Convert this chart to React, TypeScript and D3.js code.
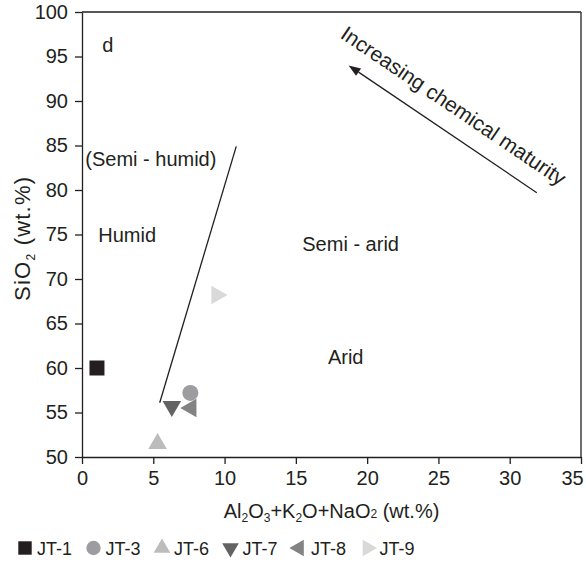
import * as React from 'react';
import * as d3 from 'd3';

const dimensions = { width: 586, height: 571 };
const margin = { top: 12, left: 82, right: 5, bottom: 114 };

const xTicks = [0, 5, 10, 15, 20, 25, 30, 35];
const yTicks = [50, 55, 60, 65, 70, 75, 80, 85, 90, 95, 100];

const samples = ['JT-1', 'JT-3', 'JT-6', 'JT-7', 'JT-8', 'JT-9'];
const oxides = [1.05, 7.6, 5.3, 6.3, 7.65, 9.45];
const silica = [60, 57.2, 51.5, 55.7, 55.5, 68.2];
const colors = ['#231f20', '#9d9d9f', '#bcbcbc', '#636363', '#838383', '#d9d9d9'];
const shapes = ['square', 'circle', 'up', 'down', 'left', 'right'];

// climate boundary line and maturity arrow, in data units
const boundary: [number, number][] = [
  [5.45, 56.1],
  [10.82, 84.9],
];
const arrow: [number, number][] = [
  [31.9, 79.7],
  [18.7, 94.0],
];

const regionLabels = ['d', '(Semi - humid)', 'Humid', 'Semi - arid', 'Arid'];
const regionX = [1.42, 0.23, 1.14, 15.45, 17.25];
const regionY = [95.5, 82.7, 74.2, 73.1, 60.4];

const font = '"Liberation Sans", Arial, sans-serif';
const ink = '#231f20';

const symbolPath = (shape: string, scale: number) => {
  if (shape === 'square') return d3.symbol(d3.symbolSquare, 225 * scale)() ?? '';
  if (shape === 'circle') return d3.symbol(d3.symbolCircle, 201 * scale)() ?? '';
  return d3.symbol(d3.symbolTriangle, 150 * scale)() ?? '';
};
const rotation: Record<string, number> = { up: 0, down: 180, left: -90, right: 90, square: 0, circle: 0 };

const App: React.FC = () => {
  const x = d3.scaleLinear([0, 35], [margin.left, dimensions.width - margin.right]);
  const y = d3.scaleLinear([50, 100], [dimensions.height - margin.bottom, margin.top]);

  const xAxisRef = React.useRef<SVGGElement>(null);
  const yAxisRef = React.useRef<SVGGElement>(null);

  React.useEffect(() => {
    const style = (g: d3.Selection<SVGGElement, unknown, null, undefined>) => {
      g.select('.domain').attr('stroke', ink).attr('stroke-width', 1.3);
      g.selectAll('.tick line').attr('stroke', ink).attr('stroke-width', 1.3);
      g.selectAll('.tick text')
        .attr('fill', ink)
        .style('font-family', font)
        .style('font-size', '20px');
    };
    d3.select(xAxisRef.current!)
      .call(d3.axisBottom(x).tickValues(xTicks).tickSize(7).tickSizeOuter(0).tickPadding(7))
      .call(style)
      // last label would run off the right edge
      .call((g) => g.selectAll<SVGTextElement, number>('.tick text').filter((d) => d === 35).attr('dx', -9));
    d3.select(yAxisRef.current!)
      .call(d3.axisLeft(y).tickValues(yTicks).tickSize(7).tickSizeOuter(0).tickPadding(7))
      .call(style);
  }, []);

  const [a0, a1] = arrow;
  const ax0 = x(a0[0]);
  const ay0 = y(a0[1]);
  const ax1 = x(a1[0]);
  const ay1 = y(a1[1]);
  const len = Math.hypot(ax1 - ax0, ay1 - ay0);
  const ux = (ax1 - ax0) / len;
  const uy = (ay1 - ay0) / len;
  const head = 12;
  const hw = 4.5;
  const bx = ax1 - ux * head;
  const by = ay1 - uy * head;
  const angle = (Math.atan2(ay0 - ay1, ax0 - ax1) * 180) / Math.PI;
  // text sits above the arrow, parallel to it
  const mx = (ax0 + ax1) / 2 + 0.559 * 18 + ux * 4;
  const my = (ay0 + ay1) / 2 - 0.829 * 18 + uy * 4;

  const legendStart = 25;
  const legendStep = 68.5;

  return (
    <svg
      width={dimensions.width}
      height={dimensions.height}
      viewBox={`0 0 ${dimensions.width} ${dimensions.height}`}
      style={{ position: 'absolute', left: 0, top: 0, background: '#fff' }}
    >
      <rect width={dimensions.width} height={dimensions.height} fill="#fff" />
      {/* frame top and right */}
      <line x1={x(0)} x2={x(35)} y1={y(100)} y2={y(100)} stroke={ink} strokeWidth={1.3} />
      <line x1={x(35)} x2={x(35)} y1={y(100)} y2={y(50)} stroke={ink} strokeWidth={1.3} />
      <g ref={xAxisRef} transform={`translate(0, ${y(50)})`} />
      <g ref={yAxisRef} transform={`translate(${x(0)}, 0)`} />

      <line
        x1={x(boundary[0][0])}
        y1={y(boundary[0][1])}
        x2={x(boundary[1][0])}
        y2={y(boundary[1][1])}
        stroke={ink}
        strokeWidth={1.3}
      />

      <line x1={ax0} y1={ay0} x2={bx} y2={by} stroke={ink} strokeWidth={1.3} />
      <path
        d={`M${ax1},${ay1}L${bx - uy * hw},${by + ux * hw}L${bx + uy * hw},${by - ux * hw}Z`}
        fill={ink}
      />
      <text
        transform={`translate(${mx},${my}) rotate(${angle})`}
        textAnchor="middle"
        fontFamily={font}
        fontSize={21}
        fill={ink}
      >
        Increasing chemical maturity
      </text>

      {regionLabels.map((t, i) => (
        <text key={t} x={x(regionX[i])} y={y(regionY[i])} fontFamily={font} fontSize={20} fill={ink}>
          {t}
        </text>
      ))}

      {samples.map((s, i) => (
        <path
          key={s}
          d={symbolPath(shapes[i], 1)}
          transform={`translate(${x(oxides[i])},${y(silica[i])}) rotate(${rotation[shapes[i]]})`}
          fill={colors[i]}
        />
      ))}

      <text x={x(17.5)} y={518} textAnchor="middle" fontFamily={font} fontSize={20} fill={ink}>
        Al<tspan fontSize={12} dy={4}>2</tspan>
        <tspan dy={-4}>O</tspan>
        <tspan fontSize={12} dy={4}>3</tspan>
        <tspan dy={-4}>+K</tspan>
        <tspan fontSize={12} dy={4}>2</tspan>
        <tspan dy={-4}>O+NaO</tspan>
        <tspan fontSize={12}>2</tspan> (wt.%)
      </text>

      <text
        transform={`translate(30, ${y(74.5)}) rotate(-90)`}
        textAnchor="middle"
        fontFamily={font}
        fontSize={22}
        fill={ink}
        textLength={124}
        lengthAdjust="spacing"
      >
        SiO<tspan fontSize={12} dy={5}>2</tspan>
        <tspan dy={-5}> (wt.%)</tspan>
      </text>

      <g transform="translate(0, 548)">
        {samples.map((s, i) => {
          const lx = legendStart + i * legendStep;
          return (
            <g key={s} transform={`translate(${lx}, 0)`}>
              <path
                d={symbolPath(shapes[i], 0.8)}
                transform={`rotate(${rotation[shapes[i]]})`}
                fill={colors[i]}
              />
              <text x={12} y={7} fontFamily={font} fontSize={18} fill={ink}>
                {s}
              </text>
            </g>
          );
        })}
      </g>
    </svg>
  );
};

export default App;
